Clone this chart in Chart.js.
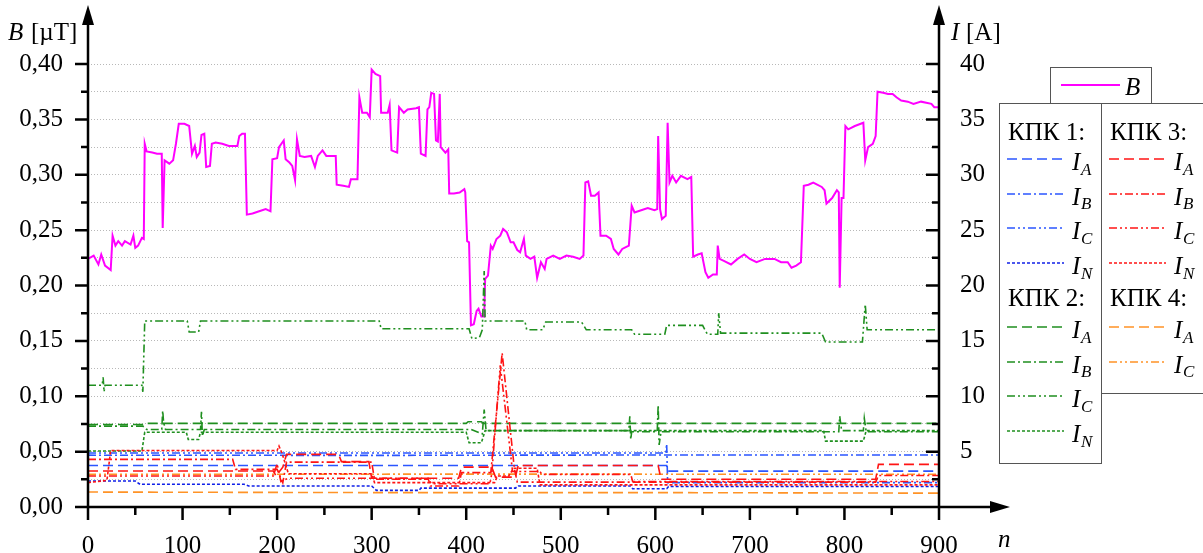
<!DOCTYPE html>
<html><head><meta charset="utf-8">
<script src="https://cdn.jsdelivr.net/npm/chart.js@4.4.0/dist/chart.umd.min.js"></script>
<style>
body{margin:0;background:#fff;}
#wrap{position:relative;width:1203px;height:553px;overflow:hidden;font-family:'Liberation Serif','Times New Roman',serif;color:#000;background:#fff;}
canvas{position:absolute;left:0;top:0;}
.t{position:absolute;white-space:nowrap;line-height:1;}
.box{position:absolute;border:1px solid #555;background:#fff;box-sizing:border-box;}
svg{position:absolute;overflow:visible;}
</style></head>
<body>
<div id="wrap"><canvas id="c" width="1203" height="553"></canvas></div>
<script>
// ---------------- DATA ----------------
const xTickLabels = ['0','100','200','300','400','500','600','700','800','900'];
const leftTickLabels = ['0,00','0,05','0,10','0,15','0,20','0,25','0,30','0,35','0,40'];
const rightTickLabels = ['5','10','15','20','25','30','35','40'];

// B [µT]
const bN = [0,6,11,14,18,24,26,29,32,36,39,45,48,50,53,57,59,60,62,68,73,78,79,81,86,90,93,96,102,107,110,113,115,118,120,123,125,129,131,135,142,149,158,160,163,166,168,174,181,188,193,195,200,202,207,209,213,216,219,221,224,229,236,240,243,248,252,262,263,270,276,278,285,287,290,295,298,300,304,309,310,317,319,321,327,329,334,338,347,350,352,357,359,361,363,366,368,370,372,373,378,381,382,387,393,398,399,401,403,405,408,411,413,416,419,420,423,426,428,432,436,439,443,447,450,454,457,461,463,468,472,475,479,483,485,492,499,506,513,520,524,526,529,532,536,540,542,548,553,556,561,565,572,575,578,585,592,599,602,603,605,607,611,613,615,618,622,627,634,638,640,645,649,653,656,661,665,666,668,673,680,687,694,700,707,716,726,733,740,744,749,754,757,762,767,776,779,781,787,792,794,795,797,799,801,804,811,820,822,825,830,833,835,841,846,851,855,860,867,873,881,892,895,900];
const bVal = [.224,.227,.219,.228,.218,.214,.245,.236,.240,.236,.240,.237,.245,.234,.236,.243,.242,.328,.321,.320,.319,.319,.252,.313,.310,.313,.328,.346,.346,.344,.319,.326,.316,.320,.336,.337,.307,.308,.328,.329,.328,.326,.326,.335,.337,.337,.264,.265,.267,.269,.267,.314,.315,.325,.331,.314,.311,.308,.295,.332,.317,.316,.317,.307,.317,.322,.317,.317,.291,.290,.289,.296,.296,.370,.356,.356,.352,.395,.391,.389,.356,.356,.363,.322,.320,.361,.356,.359,.360,.361,.319,.317,.359,.361,.374,.373,.331,.330,.373,.325,.320,.323,.283,.283,.284,.287,.284,.240,.239,.164,.165,.177,.179,.172,.172,.206,.209,.236,.233,.242,.245,.251,.248,.239,.239,.232,.230,.242,.227,.224,.226,.207,.221,.215,.224,.227,.224,.227,.226,.224,.227,.293,.294,.281,.281,.284,.245,.245,.242,.233,.228,.233,.236,.272,.266,.268,.270,.268,.269,.335,.269,.260,.263,.347,.293,.299,.293,.299,.296,.298,.226,.228,.229,.212,.207,.210,.210,.236,.224,.222,.219,.224,.228,.224,.221,.224,.224,.221,.221,.216,.218,.221,.290,.291,.293,.289,.286,.274,.279,.286,.284,.198,.279,.279,.344,.341,.344,.347,.313,.325,.328,.335,.375,.374,.373,.373,.370,.367,.366,.364,.366,.364,.361,.361];

// КПК 1 currents [A]
const k1A_n = [0,612,613,900];
const k1A_i = [3.75,3.75,3.24,3.24];
const k1B_n = [0,300,612,900];
const k1B_i = [4.68,4.66,4.7,4.7];
const k1C_n = [0,611,612,613,900];
const k1C_i = [4.88,4.88,5.7,2.2,2.2];
const k1N_n = [0,50,55,165,170,300,305,350,352,452,455,574,576,612,614,900];
const k1N_i = [2.35,2.35,2.05,2.05,1.9,1.9,1.5,1.5,1.7,1.7,1.9,1.9,1.65,1.65,1.85,1.85];
// КПК 2
const k2A_n = [0,58,60,400,402,416,418,900];
const k2A_i = [7.45,7.45,7.55,7.55,7.7,7.7,7.55,7.55];
const k2B_n = [0,58,62,78,79,80,82,119,120,121,123,405,417,419,421,572,573,574,575,602,603,604,606,794,795,797,820,821,823,900];
const k2B_i = [7.3,7.3,7.0,7.0,8.7,7.6,7.0,7.0,8.6,6.4,7.0,7.0,6.6,8.8,6.9,6.9,8.2,6.1,6.8,6.8,9.2,5.6,6.8,6.8,8.2,6.9,6.9,8.0,6.8,6.8];
const k2C_n = [0,15,16,17,18,57,58,60,105,107,117,119,308,310,403,406,414,417,419,420,462,464,481,484,522,527,575,578,610,612,650,655,666,667,669,776,780,819,822,824,900];
const k2C_i = [11.0,11.0,11.7,10.4,11.0,11.0,10.4,16.8,16.8,15.8,15.8,16.8,16.8,16.1,16.1,15.2,15.3,16.0,21.3,16.8,16.8,16.0,16.0,16.7,16.7,16.0,16.0,15.6,15.6,16.4,16.4,15.6,15.6,17.5,15.7,15.7,14.9,14.9,18.3,16.0,16.0];
const k2N_n = [0,57,60,104,106,117,119,400,403,416,420,778,780,820,823,900];
const k2N_i = [5.05,5.05,6.75,6.75,6.1,6.1,6.75,6.75,5.8,5.8,6.9,6.9,5.95,5.95,6.9,6.9];
// КПК 3
const k3A_n = [0,196,199,206,210,265,268,297,300,392,395,427,431,452,455,603,606,833,836,900];
const k3A_i = [3.25,3.25,2.8,3.6,4.75,4.75,4.1,4.1,2.6,2.6,3.6,3.6,2.7,2.7,3.75,3.75,2.5,2.5,3.85,3.85];
const k3B_n = [0,153,156,200,206,210,300,303,360,362,392,395,426,438,451,454,833,836,900];
const k3B_i = [4.3,4.3,3.4,3.4,2.2,4.05,4.05,2.5,2.5,1.9,1.9,3.1,3.1,13.9,3.4,2.25,2.25,2.85,2.85];
const k3C_n = [0,196,200,204,212,360,363,425,427,436,449,478,480,574,576,900];
const k3C_i = [2.8,2.8,3.9,2.3,2.6,2.6,2.1,2.1,3.0,12.8,3.2,3.2,2.95,2.95,2.3,2.3];
const k3N_n = [0,20,24,200,202,205,212,300,303,430,433,445,450,475,478,900];
const k3N_i = [2.2,2.4,5.1,5.1,5.5,4.9,3.0,3.0,2.2,2.2,2.8,2.8,3.5,3.5,2.0,2.0];
// КПК 4
const k4A_n = [0,300,600,900];
const k4A_i = [1.35,1.3,1.3,1.25];
const k4C_n = [0,450,900];
const k4C_i = [2.95,2.97,2.95];

// ---------------- STYLE ----------------
const dashes = {A:[10,5], B:[8,3,2,3], C:[8,3,2,3,2,3], N:[3,2]};
const col = {k1:'#2b56ff', k1N:'#1020e8', k2:'#1f8f1f', k3:'#ff1414', k4:'#ff9326', B:'#ff00ff'};

const series = [
  {g:'k3', ph:'A', n:k3A_n, v:k3A_i},
  {g:'k3', ph:'B', n:k3B_n, v:k3B_i},
  {g:'k3', ph:'C', n:k3C_n, v:k3C_i},
  {g:'k3', ph:'N', n:k3N_n, v:k3N_i},
  {g:'k4', ph:'A', n:k4A_n, v:k4A_i},
  {g:'k4', ph:'C', n:k4C_n, v:k4C_i},
  {g:'k1', ph:'A', n:k1A_n, v:k1A_i},
  {g:'k1', ph:'B', n:k1B_n, v:k1B_i},
  {g:'k1', ph:'C', n:k1C_n, v:k1C_i},
  {g:'k1', ph:'N', n:k1N_n, v:k1N_i},
  {g:'k2', ph:'A', n:k2A_n, v:k2A_i},
  {g:'k2', ph:'B', n:k2B_n, v:k2B_i},
  {g:'k2', ph:'C', n:k2C_n, v:k2C_i},
  {g:'k2', ph:'N', n:k2N_n, v:k2N_i}
];
function colorOf(s){ return (s.g==='k1' && s.ph==='N') ? col.k1N : col[s.g]; }
const pts = (ns, vs) => ns.map((n,i)=>({x:n, y:vs[i]}));

const datasets = series.map(s => ({
  label: s.g + s.ph, data: pts(s.n, s.v), yAxisID:'yI',
  borderColor: colorOf(s), borderWidth:1.6, borderDash: dashes[s.ph],
  pointRadius:0, fill:false, tension:0
}));
datasets.push({label:'B', data: pts(bN, bVal), yAxisID:'y', borderColor: col.B, borderWidth:2,
  pointRadius:0, fill:false, tension:0});

// ---------------- AXES PLUGIN ----------------
const axesPlugin = {
  id:'axesDraw',
  afterDraw(chart){
    const ctx = chart.ctx, sx = chart.scales.x, sy = chart.scales.y;
    const L = sx.getPixelForValue(0), R = sx.getPixelForValue(900), B0 = sy.getPixelForValue(0);
    ctx.save();
    ctx.strokeStyle = '#000'; ctx.fillStyle = '#000'; ctx.lineWidth = 2.5; ctx.lineCap = 'butt';
    ctx.beginPath();
    sy.ticks.forEach((t,i) => {
      const p = sy.getPixelForValue(t.value);
      const len = (i % 2 === 0) ? 13 : 7;
      ctx.moveTo(L - len, p); ctx.lineTo(L, p);
      ctx.moveTo(R - len, p); ctx.lineTo(R, p);
    });
    sx.ticks.forEach((t,i) => {
      const p = sx.getPixelForValue(t.value);
      const len = (i % 2 === 0) ? 13 : 8;
      ctx.moveTo(p, B0); ctx.lineTo(p, B0 + len);
    });
    ctx.moveTo(L, B0 + 13); ctx.lineTo(L, 22);
    ctx.moveTo(R, B0 + 13); ctx.lineTo(R, 22);
    ctx.moveTo(L - 13, B0); ctx.lineTo(995, B0);
    ctx.stroke();
    const tri = (a,b,c) => { ctx.beginPath(); ctx.moveTo(a[0],a[1]); ctx.lineTo(b[0],b[1]); ctx.lineTo(c[0],c[1]); ctx.closePath(); ctx.fill(); };
    tri([L,5],[L-6,25],[L+6,25]);
    tri([R,5],[R-6,25],[R+6,25]);
    tri([1010,B0],[990,B0-6],[990,B0+6]);
    ctx.restore();
  }
};

const tickFont = {family:"'Liberation Serif', 'Times New Roman', serif", size:25};

new Chart(document.getElementById('c'), {
  type:'line',
  data:{datasets},
  options:{
    responsive:false, devicePixelRatio:1, animation:false,
    layout:{padding:{top:64, left:0, right:0, bottom:0}},
    plugins:{legend:{display:false}, tooltip:{enabled:false}},
    scales:{
      x:{type:'linear', min:0, max:900,
        grid:{display:false}, border:{display:false},
        ticks:{stepSize:50, autoSkip:false, maxRotation:0, padding:16, color:'#000', font:tickFont,
          callback:(v,i)=> (i%2===0 ? xTickLabels[i/2] : '')},
        afterFit:(s)=>{ s.height = 46; }
      },
      y:{type:'linear', position:'left', min:0, max:0.40,
        grid:{display:true, drawTicks:false, lineWidth:1,
          color:(c)=> (c.tick && Math.abs(c.tick.value) < 1e-9) ? 'rgba(0,0,0,0)' : '#b8b8b8'},
        border:{display:false, dash:[1,2]},
        ticks:{stepSize:0.025, autoSkip:false, padding:25, color:'#000', font:tickFont,
          callback:(v,i)=> (i%2===0 ? leftTickLabels[i/2] : '')},
        afterFit:(s)=>{ s.width = 88; }
      },
      yI:{type:'linear', position:'right', min:0, max:40,
        grid:{display:false}, border:{display:false},
        ticks:{stepSize:2.5, autoSkip:false, padding:13, color:'#000', font:tickFont,
          callback:(v,i)=> (i%2===0 && i>0 ? rightTickLabels[i/2-1] : '')},
        afterFit:(s)=>{ s.width = 264; }
      }
    }
  },
  plugins:[axesPlugin]
});

// ---------------- TEXT / LEGEND ----------------
const wrap = document.getElementById('wrap');
function addText(txt, x, base, size, italic){
  const s = document.createElement('span');
  s.className = 't'; s.textContent = txt;
  s.style.left = x + 'px'; s.style.top = (base - 0.8375*size) + 'px';
  s.style.fontSize = size + 'px'; if (italic) s.style.fontStyle = 'italic';
  wrap.appendChild(s); return s;
}
function addBox(x,y,w,h){
  const d = document.createElement('div'); d.className='box';
  d.style.left=x+'px'; d.style.top=y+'px'; d.style.width=w+'px'; d.style.height=h+'px';
  wrap.appendChild(d);
}
function addSample(x1, x2, y, color, dash, w){
  const ns='http://www.w3.org/2000/svg';
  const svg=document.createElementNS(ns,'svg');
  svg.setAttribute('width', x2-x1); svg.setAttribute('height', 6);
  svg.style.left = x1+'px'; svg.style.top = (y-3)+'px';
  const l=document.createElementNS(ns,'line');
  l.setAttribute('x1',0); l.setAttribute('x2',x2-x1); l.setAttribute('y1',3); l.setAttribute('y2',3);
  l.setAttribute('stroke',color); l.setAttribute('stroke-width',w);
  if (dash) l.setAttribute('stroke-dasharray', dash.join(','));
  svg.appendChild(l); wrap.appendChild(svg);
}

addText('B', 8, 40, 25, true); addText('[µT]', 31, 40, 25, false);
addText('I', 951, 40, 25, true); addText('[A]', 966, 40, 25, false);
addText('n', 998, 547, 25, true);

addBox(999, 103, 103, 361);
addBox(1101, 103, 104, 291);
addBox(1050, 67, 102, 37);
addSample(1061, 1120, 85, col.B, null, 2);
addText('B', 1125, 95, 25, true);

const legendGroups = [
  {title:'КПК 1:', g:'k1', phases:['A','B','C','N'], col:0, row:0},
  {title:'КПК 2:', g:'k2', phases:['A','B','C','N'], col:0, row:1},
  {title:'КПК 3:', g:'k3', phases:['A','B','C','N'], col:1, row:0},
  {title:'КПК 4:', g:'k4', phases:['A','C'], col:1, row:1}
];
legendGroups.forEach(gr => {
  const cx = gr.col === 0 ? 1007 : 1109;
  const titleBase = gr.row === 0 ? 140 : 306;
  const firstY = gr.row === 0 ? 159 : 327;
  addText(gr.title, cx + 1, titleBase, 25, false);
  gr.phases.forEach((ph, k) => {
    const y = firstY + k*34.7;
    const c = (gr.g==='k1' && ph==='N') ? col.k1N : col[gr.g];
    addSample(cx, cx + 57, y, c, dashes[ph], 1.6);
    addText('I', cx + 65, y + 11, 25, true);
    addText(ph, cx + 74, y + 16, 17, true);
  });
});
</script>
</body></html>
